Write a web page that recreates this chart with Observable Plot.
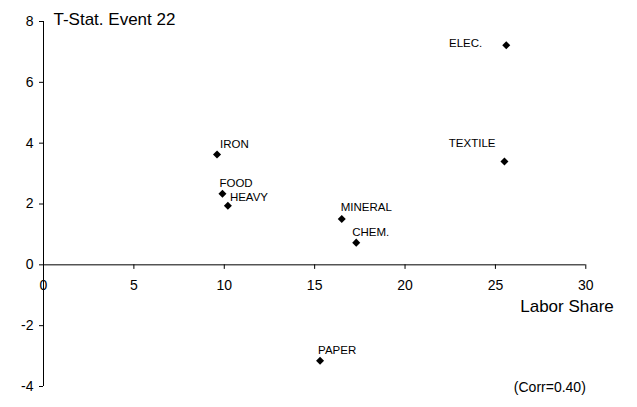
<!DOCTYPE html>
<html>
<head>
<meta charset="utf-8">
<script src="https://cdn.jsdelivr.net/npm/d3@7"></script>
<script src="https://cdn.jsdelivr.net/npm/@observablehq/plot@0.6"></script>
<style>
  html, body { margin: 0; padding: 0; background: #fff; }
  #chart { width: 637px; height: 407px; }
</style>
</head>
<body>
<div id="chart"></div>
<script>
const industries = ["ELEC.", "TEXTILE", "IRON", "FOOD", "HEAVY", "MINERAL", "CHEM.", "PAPER"];
const laborShare = [25.6, 25.5, 9.6, 9.9, 10.2, 16.5, 17.3, 15.3];
const tStat = [7.22, 3.40, 3.63, 2.34, 1.94, 1.51, 0.73, -3.15];
const xTicks = [0, 5, 10, 15, 20, 25, 30];
const yTicks = [-4, -2, 0, 2, 4, 6, 8];
const titleText = "T-Stat. Event 22";
const xLabelText = "Labor Share";
const corrText = "(Corr=0.40)";

const data = industries.map((name, i) => ({name, x: laborShare[i], y: tStat[i]}));

// label placement (style): [dx, dy, anchor]
const labelStyle = {
  "ELEC.":   [-24, -2, "end"],
  "TEXTILE": [-9, -18, "end"],
  "IRON":    [3, -10, "start"],
  "FOOD":    [-3, -10.5, "start"],
  "HEAVY":   [2, -9, "start"],
  "MINERAL": [-1, -12, "start"],
  "CHEM.":   [-4, -10, "start"],
  "PAPER":   [-2, -10, "start"]
};

const font = "'Liberation Sans', Arial, sans-serif";

const labelMarks = data.map(d => {
  const [dx, dy, anchor] = labelStyle[d.name];
  return Plot.text([d], {x: "x", y: "y", text: "name", dx, dy, textAnchor: anchor, fontSize: 11.5, fill: "#000"});
});

const chart = Plot.plot({
  width: 637,
  height: 407,
  marginLeft: 43,
  marginRight: 51.7,
  marginTop: 21,
  marginBottom: 21,
  style: {fontFamily: font, background: "#fff", color: "#000"},
  x: {domain: [0, 30], axis: null},
  y: {domain: [-4, 8], axis: null},
  marks: [
    Plot.axisY({ticks: yTicks, tickFormat: d => String(d), label: null, tickSize: 4, tickPadding: 6, fontSize: 14, stroke: "#000", strokeOpacity: 1, fill: "#000"}),
    Plot.ruleX([0], {stroke: "#000", strokeWidth: 1}),
    Plot.ruleY([0], {stroke: "#000", strokeWidth: 1}),
    Plot.ruleX(xTicks, {x: d => d, y1: 0, y2: -0.15, stroke: "#000"}),
    Plot.text(xTicks, {x: d => d, y: 0, text: d => String(d), dy: 21, fontSize: 14, fill: "#000"}),
    Plot.dot(data, {x: "x", y: "y", symbol: "square", rotate: 45, r: 3.2, fill: "#000", stroke: "none"}),
    ...labelMarks,
    Plot.text([titleText], {x: 0, y: 8, text: d => d, dx: 10, dy: -2, textAnchor: "start", fontSize: 17, fill: "#000"}),
    Plot.text([xLabelText], {x: 30, y: 0, text: d => d, dx: 28, dy: 42, textAnchor: "end", fontSize: 17, fill: "#000"}),
    Plot.text([corrText], {x: 30, y: -4, text: d => d, dx: 0, dy: 1, textAnchor: "end", fontSize: 14, fill: "#000"})
  ]
});

document.getElementById("chart").appendChild(chart);
</script>
</body>
</html>
